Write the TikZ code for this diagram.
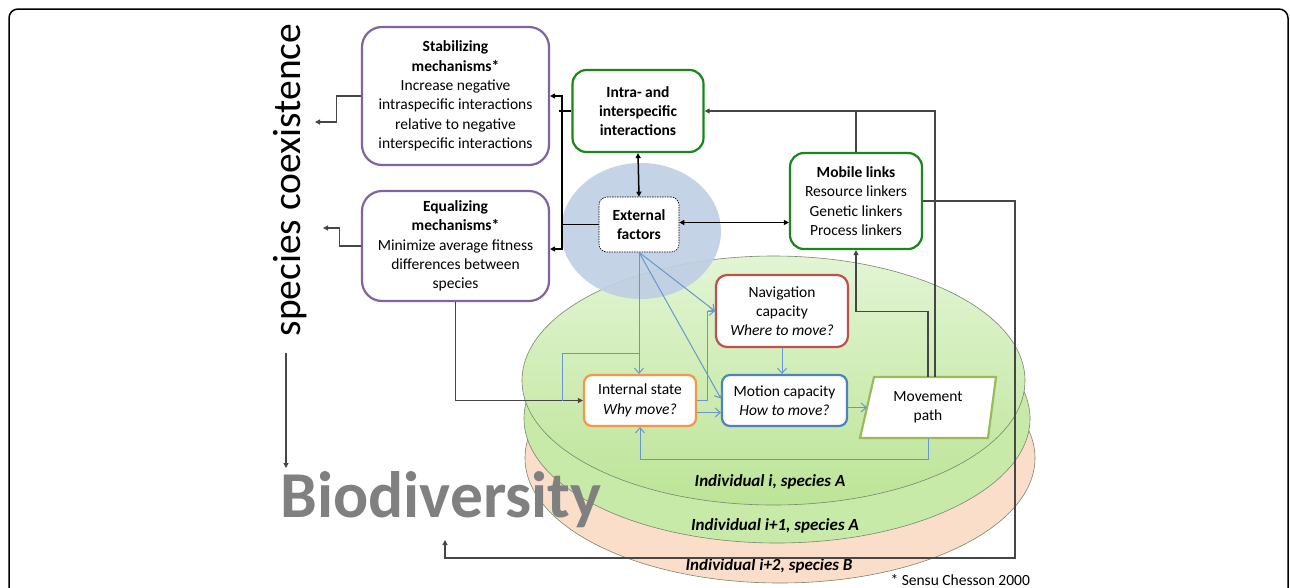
\documentclass[tikz,border=0pt]{standalone}
\usepackage{fontspec}
\setmainfont{Carlito}
\usetikzlibrary{arrows.meta,calc}
\definecolor{purp}{RGB}{128,100,162}
\definecolor{grn}{RGB}{25,135,25}
\definecolor{redb}{RGB}{192,80,77}
\definecolor{orb}{RGB}{247,150,70}
\definecolor{blb}{RGB}{79,129,189}
\definecolor{olv}{RGB}{155,187,89}
\definecolor{lnblue}{RGB}{105,150,205}
\definecolor{circ}{RGB}{192,207,228}
\definecolor{gtop}{RGB}{226,245,212}
\definecolor{gbot}{RGB}{188,228,150}
\definecolor{gmid}{RGB}{200,234,168}
\definecolor{peach}{RGB}{250,222,202}
\definecolor{eline}{RGB}{120,135,110}
\definecolor{dline}{RGB}{70,70,70}
\definecolor{biogray}{RGB}{128,128,128}
\tikzset{
  fs/.style={font=\fontsize{15.5}{19.3}\selectfont, align=center},
  bx/.style={fs, draw, fill=white, line width=2.2pt, inner sep=0pt},
  pbox/.style={bx, draw=purp, rounded corners=20pt},
  gbox/.style={bx, draw=grn, rounded corners=14pt},
  blk/.style={draw=dline, line width=1.1pt, -{Triangle[length=5pt,width=5pt]}},
  blkline/.style={draw=dline, line width=1.1pt},
  bus/.style={draw=black, line width=1.5pt, -{Triangle[length=5pt,width=5pt]}},
  bl/.style={draw=lnblue, line width=1pt, -{Straight Barb[length=5pt,width=9pt]}},
  blline/.style={draw=lnblue, line width=1pt},
  ell/.style={draw=eline, line width=0.6pt},
  lab/.style={font=\fontsize{17}{18}\selectfont\bfseries\itshape},
}
\begin{document}
\begin{tikzpicture}[x=1pt,y=-1pt]
\useasboundingbox (0,0) rectangle (1290,587);
\begin{scope}
\clip (0,0) rectangle (1290,587);
\draw[line width=1.5pt, rounded corners=9pt] (9,9) rectangle (1288,660);

% discs
\fill[peach] (780,458) ellipse [x radius=255pt, y radius=125pt];
\draw[ell] (780,458) ellipse [x radius=255pt, y radius=125pt];
\fill[gmid] (777,418.5) ellipse [x radius=253pt, y radius=124.5pt];
\draw[ell] (777,418.5) ellipse [x radius=253pt, y radius=124.5pt];
\shade[top color=gtop, bottom color=gbot] (773.5,380.5) ellipse [x radius=251.5pt, y radius=124.5pt];
\draw[ell] (773.5,380.5) ellipse [x radius=251.5pt, y radius=124.5pt];
% blue halo
\fill[circ, fill opacity=0.92] (641,231) ellipse [x radius=80pt, y radius=68pt];

% big labels
\node[rotate=90, font=\fontsize{39.5}{42}\selectfont] (sc) at (290,180) {species coexistence};
\node[font=\fontsize{65.5}{70}\selectfont\bfseries, text=biogray, inner sep=0pt] (bio) at (441,500) {Biodiversity};

% boxes
\node[pbox, minimum width=187pt, minimum height=138pt] (stab) at (455.5,96)
  {\textbf{Stabilizing}\\\textbf{mechanisms*}\\Increase negative\\intraspecific interactions\\relative to negative\\interspecific interactions};
\node[pbox, minimum width=187pt, minimum height=110pt] (equal) at (455.5,246)
  {\textbf{Equalizing}\\\textbf{mechanisms*}\\Minimize average fitness\\differences between\\species};
\node[gbox, minimum width=131pt, minimum height=82pt] (intra) at (638,111)
  {\textbf{Intra- and}\\\textbf{interspecific}\\\textbf{interactions}};
\node[bx, draw=black, line width=0.6pt, dashed, dash pattern=on 1.5pt off 1pt, rounded corners=8pt, minimum width=80pt, minimum height=55pt] (ext) at (639,224.5)
  {\textbf{External}\\\textbf{factors}};
\node[gbox, minimum width=132pt, minimum height=96pt] (mob) at (856,201)
  {\textbf{Mobile links}\\Resource linkers\\Genetic linkers\\Process linkers};
\node[bx, draw=redb, rounded corners=11pt, minimum width=132pt, minimum height=72pt] (nav) at (782,311)
  {Navigation\\capacity\\\textit{Where to move?}};
\node[bx, draw=orb, rounded corners=8pt, minimum width=112pt, minimum height=51pt] (intl) at (640,400.5)
  {Internal state\\\textit{Why move?}};
\node[bx, draw=blb, rounded corners=8pt, minimum width=125pt, minimum height=51pt] (mot) at (784.5,400.5)
  {Motion capacity\\\textit{How to move?}};
\filldraw[fill=white, draw=olv, line width=2.2pt] (874,377) -- (996,377) -- (988,438) -- (860,438) -- cycle;
\node[fs, minimum width=122pt, minimum height=61pt, inner sep=0pt] (mp) at (928,407.5) {Movement\\path};

% disc labels
\node[lab] (l1) at (770,482) {Individual i, species A};
\node[lab] (l2) at (775,526) {Individual i+1, species A};
\node[lab] (l3) at (769,566) {Individual i+2, species B};
\node[font=\fontsize{15.5}{17}\selectfont, anchor=west] (ref) at (887,580) {* Sensu Chesson 2000};

% coordinates
\coordinate (sc1) at (315,122);
\coordinate (sc2) at (323,228);
\coordinate (s1) at (286,353);
\coordinate (s2) at (286,468);
\coordinate (br) at (1015,558);
\coordinate (bioend) at (445,540);

% black connectors
\draw[blk] (stab.west) -- ++(-24,0) |- (sc1);
\draw[blk] (equal.west) -- ++(-21,0) |- (sc2);
\draw[blk] (s1) -- (s2);
\draw[bus] (ext.west) -| ($(stab.east)+(12,0)$) -- (stab.east);
\draw[bus] (ext.west) -| ($(equal.east)+(12,3)$) -- ($(equal.east)+(0,3)$);
\draw[blkline, line width=1.5pt, draw=black] (intra.west) -- ++(-12,0);
\draw[bus, {Triangle[length=5pt,width=5pt]}-{Triangle[length=5pt,width=5pt]}] (intra.south) -- (ext.north);
\draw[bus, {Triangle[length=5pt,width=5pt]}-{Triangle[length=5pt,width=5pt]}] ([yshift=2pt]ext.east) -- ([yshift=2pt]ext.east -| mob.west);
\draw[blk] ($(mp.north)+(7,0)$) |- (intra.east);
\draw[blkline] (mob.north) -- (mob.north |- intra.east);
\draw[blk] (mp.north) -- ++(0,-65) -| (mob.south);
\draw[blk] (mob.east) -| (br) -| (bioend);
\draw[blk] (equal.south) |- (intl.west);

% blue connectors
\draw[bl] (ext.south) -- (ext.south |- intl.north);
\draw[blline] ($(intl.west)+(-20,0)$) |- ($(ext.south |- intl.north)+(0,-20)$);
\draw[bl] (ext.south) -- (nav.west);
\draw[bl] (ext.south) -- ([yshift=2pt]mot.west);
\draw[bl] (intl.east) -- ++(10,0) |- (nav.west);
\draw[bl] ([yshift=-12pt]intl.east) -- ([yshift=-12pt]mot.west);
\draw[bl] (nav.south) -- (nav.south |- mot.north);
\draw[bl] (mot.east |- mp.west) -- (mp.west);
\draw[bl] (mp.south) -- ++(0,21) -| (intl.south);
\end{scope}
\end{tikzpicture}
\end{document}
